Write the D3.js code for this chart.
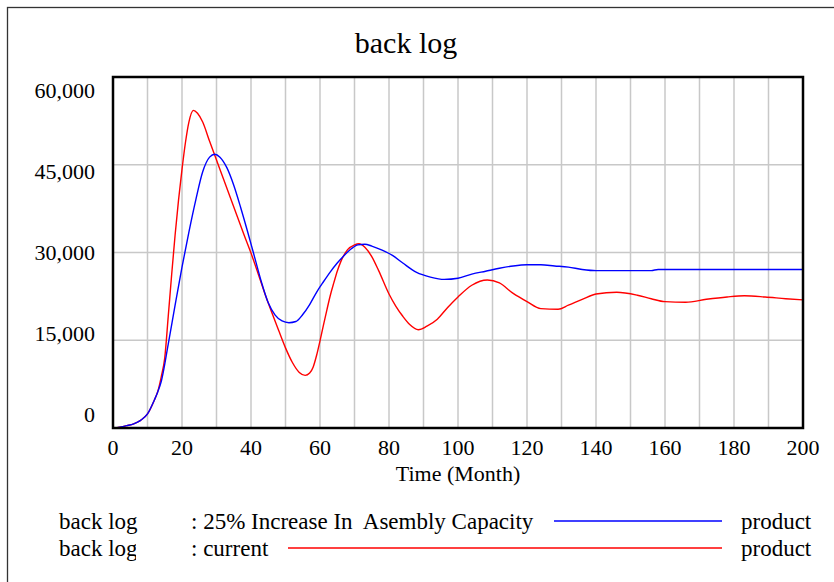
<!DOCTYPE html>
<html>
<head>
<meta charset="utf-8">
<script src="https://cdn.jsdelivr.net/npm/d3@7/dist/d3.min.js"></script>
<style>
  html, body { margin: 0; padding: 0; background: #fff; }
  svg { display: block; }
  text { font-family: "Liberation Serif", "Times New Roman", serif; fill: #000; }
</style>
</head>
<body>
<svg id="chart" width="834" height="582"></svg>
<script>
// ---- data ----
const chartTitle = "back log";
const xAxisTitle = "Time (Month)";
const xTicks = [0, 20, 40, 60, 80, 100, 120, 140, 160, 180, 200];
const yTicks = [0, 15000, 30000, 45000, 60000];

const blueMonths = [0,2,4,6,8,10,12,13,14,16, 18,20,22,24,26,28,29.5,31,33,35, 37,39,41,43,45,47,49,51,53,55,
  57,59,61,63,65,67,69,71,73,75, 78,81,84,88,92,96,100,104,108,112, 116,120,124,128,132,136,140,150,156,158, 170,185,200];
const blueValues = [0,150,400,700,1300,2400,4800,6200,8000,14300, 21000,27500,33500,39000,43800,46300,46800,46300,44500,41500,
  37700,33600,29300,25000,21400,19300,18300,18000,18200,19400, 21100,23200,25000,26700,28200,29500,30600,31300,31400,31100,
  30400,29500,28200,26600,25800,25400,25600,26300,26800,27300, 27700,27900,27900,27700,27500,27100,26900,26900,26900,27100,
  27100,27100,27100];

const redMonths = [0,2,4,6,8,10,12,13,14,15, 16,17,18,19,20,21,22,23.3,24.5,26, 28,30,32,34,36,38,40,42,44,46,
  48,50,52,54,55.7,57,58,59,60,61, 62,63,64,65,66,68,70,71.3,73,75, 77,80,82,84,86,88.5,91,94,97,100,
  104,108.5,112,116,120,124,129,132,136,140, 146,152,156,160,166,172,178,183,189,195,200];
const redValues = [0,150,400,700,1300,2400,4800,6300,8800,12000, 19000,26200,33000,39000,44200,48800,52300,54300,53800,52300,
  49000,45800,42600,39400,36200,33000,29900,26500,23000,19800, 16700,13700,11200,9500,9000,9400,10400,12400,14900,17600,
  20200,22700,24800,26800,28400,30500,31300,31500,30900,29300, 26900,22900,20800,19100,17700,16800,17400,18600,20600,22400,
  24400,25300,24800,23000,21600,20400,20300,21000,22000,22900, 23200,22700,22100,21600,21500,22000,22400,22600,22400,22100,21900];

const seriesLabels = ["back log", "back log"];
const seriesRuns = [": 25% Increase In  Asembly Capacity", ": current"];
const seriesUnits = ["product", "product"];
const seriesColors = ["#0000ff", "#ff0000"];

// ---- layout ----
const svg = d3.select("#chart");
const plot = {left: 113, top: 77, right: 803, bottom: 428};

// outer frame (open to the right and bottom)
svg.append("rect").attr("x", 7.5).attr("y", 7.5).attr("width", 900).attr("height", 700)
  .attr("fill", "none").attr("stroke", "#333").attr("stroke-width", 1.3);

const x = d3.scaleLinear().domain([0, 200]).range([plot.left, plot.right]);
const y = d3.scaleLinear().domain([0, 60000]).range([plot.bottom, plot.top]);
// tick label positions (labels spaced inside the plot height, as in the original)
const yLabel = d3.scaleLinear().domain([0, 60000]).range([421.5, 98]);

// grid
const gx = d3.range(0, 201, 10);
svg.append("g").selectAll("line").data(gx).join("line")
  .attr("x1", d => x(d)).attr("x2", d => x(d)).attr("y1", plot.top).attr("y2", plot.bottom)
  .attr("stroke", "#c8c8c8").attr("stroke-width", 1.5);
svg.append("g").selectAll("line").data(yTicks).join("line")
  .attr("x1", plot.left).attr("x2", plot.right).attr("y1", d => y(d)).attr("y2", d => y(d))
  .attr("stroke", "#c8c8c8").attr("stroke-width", 1.5);

// series
const line = d3.line().curve(d3.curveMonotoneX).x(d => x(d[0])).y(d => y(d[1]));
const blueData = blueMonths.map((m, i) => [m, blueValues[i]]);
const redData = redMonths.map((m, i) => [m, redValues[i]]);
svg.append("path").datum(redData).attr("d", line).attr("fill", "none")
  .attr("stroke", seriesColors[1]).attr("stroke-width", 1.4);
svg.append("path").datum(blueData).attr("d", line).attr("fill", "none")
  .attr("stroke", seriesColors[0]).attr("stroke-width", 1.4);

// plot border
svg.append("rect").attr("x", plot.left).attr("y", plot.top)
  .attr("width", plot.right - plot.left).attr("height", plot.bottom - plot.top)
  .attr("fill", "none").attr("stroke", "#000").attr("stroke-width", 2.5);

// title
svg.append("text").attr("x", 406).attr("y", 53).attr("text-anchor", "middle")
  .attr("font-size", 30).text(chartTitle);

// y tick labels
const fmt = d3.format(",");
svg.append("g").selectAll("text").data(yTicks).join("text")
  .attr("x", 95).attr("y", d => yLabel(d)).attr("text-anchor", "end")
  .attr("font-size", 22).text(d => fmt(d));

// x tick labels
svg.append("g").selectAll("text").data(xTicks).join("text")
  .attr("x", d => x(d)).attr("y", 455).attr("text-anchor", "middle")
  .attr("font-size", 22).text(d => d);

// x axis title
svg.append("text").attr("x", 458).attr("y", 481).attr("text-anchor", "middle")
  .attr("font-size", 22).text(xAxisTitle);

// legend
const defs = svg.append("defs");
defs.append("clipPath").attr("id", "lab0").append("rect").attr("x", 50).attr("y", 500).attr("width", 88).attr("height", 40);
defs.append("clipPath").attr("id", "lab1").append("rect").attr("x", 50).attr("y", 530).attr("width", 86).attr("height", 40);
const rowY = [521, 548];
const lineStart = [554, 288];
seriesLabels.forEach((lab, i) => {
  svg.append("text").attr("x", 59).attr("y", rowY[i] + 8).attr("font-size", 23)
    .attr("clip-path", `url(#lab${i})`).text(lab);
  svg.append("text").attr("x", 191).attr("y", rowY[i] + 8).attr("font-size", 23)
    .style("white-space", "pre").text(seriesRuns[i]);
  svg.append("line").attr("x1", lineStart[i]).attr("x2", 722).attr("y1", rowY[i]).attr("y2", rowY[i])
    .attr("stroke", seriesColors[i]).attr("stroke-width", 1.5);
  svg.append("text").attr("x", 741).attr("y", rowY[i] + 8).attr("font-size", 23).text(seriesUnits[i]);
});
</script>
</body>
</html>
